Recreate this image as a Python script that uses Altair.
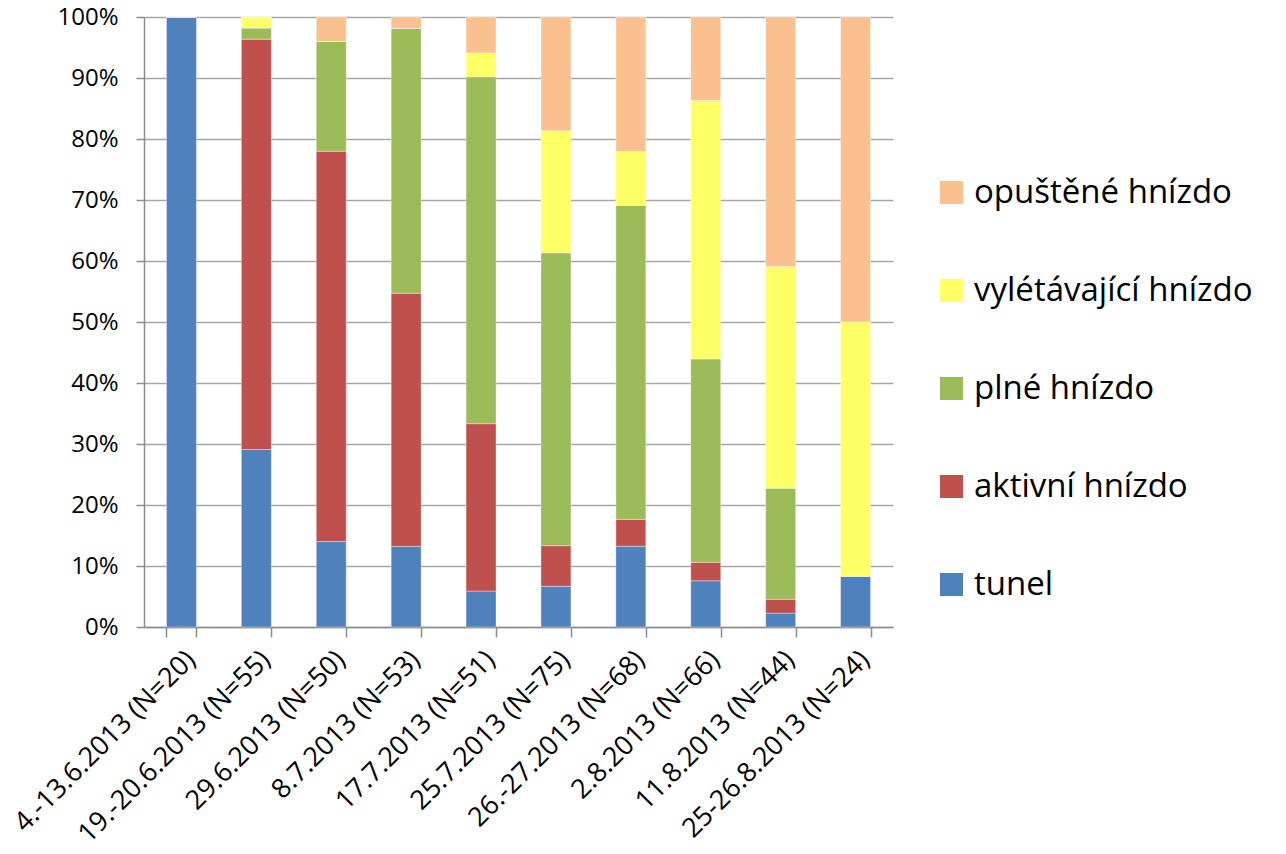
import altair as alt
import pandas as pd

# Sampling dates with the number of nests checked on each occasion
dates = [
    "4.-13.6.2013 (N=20)",
    "19.-20.6.2013 (N=55)",
    "29.6.2013 (N=50)",
    "8.7.2013 (N=53)",
    "17.7.2013 (N=51)",
    "25.7.2013 (N=75)",
    "26.-27.2013 (N=68)",
    "2.8.2013 (N=66)",
    "11.8.2013 (N=44)",
    "25-26.8.2013 (N=24)",
]

# Nest counts per stage on each date
tunel = [20, 16, 7, 7, 3, 5, 9, 5, 1, 2]
aktivni = [0, 37, 32, 22, 14, 5, 3, 2, 1, 0]
plne = [0, 1, 9, 23, 29, 36, 35, 22, 8, 0]
vyletavajici = [0, 1, 0, 0, 2, 15, 6, 28, 16, 10]
opustene = [0, 0, 2, 1, 3, 14, 15, 9, 18, 12]

stages = ["tunel", "aktivní hnízdo", "plné hnízdo", "vylétávající hnízdo", "opuštěné hnízdo"]
colors = ["#4F81BD", "#C0504D", "#9BBB59", "#FFFF66", "#FAC090"]
series = [tunel, aktivni, plne, vyletavajici, opustene]

rows = []
for stage_idx, (stage, values) in enumerate(zip(stages, series)):
    for date, v in zip(dates, values):
        rows.append({"datum": date, "stadium": stage, "pocet": v, "poradi": stage_idx})
df = pd.DataFrame(rows)

FONT = "Open Sans"

chart = (
    alt.Chart(df)
    .mark_bar(stroke="#ffffff", strokeOpacity=0.35, strokeWidth=1)
    .encode(
        x=alt.X(
            "datum:N",
            sort=dates,
            title=None,
            scale=alt.Scale(paddingInner=0.6, paddingOuter=0.3),
            axis=alt.Axis(
                labelAngle=-45,
                labelFontSize=27,
                labelFont=FONT,
                labelColor="#000000",
                labelPadding=9,
                tickBand="extent",
                tickSize=10,
                tickColor="#8c8c8c",
                tickWidth=1.5,
                domainColor="#8c8c8c",
                domainWidth=1.5,
                grid=False,
                labelLimit=400,
            ),
        ),
        y=alt.Y(
            "pocet:Q",
            stack="normalize",
            title=None,
            scale=alt.Scale(domain=[0, 1]),
            axis=alt.Axis(
                format="%",
                values=[i / 10 for i in range(11)],
                labelFontSize=24,
                labelFont=FONT,
                labelColor="#000000",
                labelPadding=18,
                tickSize=8,
                tickColor="#8c8c8c",
                tickWidth=1.5,
                domainColor="#8c8c8c",
                domainWidth=1.5,
                grid=True,
                gridColor="#a6a6a6",
                gridWidth=1.5,
            ),
        ),
        color=alt.Color(
            "stadium:N",
            scale=alt.Scale(domain=stages[::-1], range=colors[::-1]),
            legend=alt.Legend(
                title=None,
                orient="none",
                legendX=791,
                legendY=159,
                symbolType="square",
                symbolSize=529,
                symbolStrokeWidth=0,
                symbolOpacity=1,
                labelFontSize=33,
                labelFont=FONT,
                labelColor="#000000",
                labelOffset=6,
                rowPadding=64,
                labelLimit=400,
            ),
        ),
        order=alt.Order("poradi:Q", sort="ascending"),
    )
    .properties(
        width=749,
        height=610,
        autosize=alt.AutoSizeParams(type="none"),
        padding={"left": 144, "top": 17, "right": 393, "bottom": 227},
        background="#ffffff",
    )
    .configure_view(stroke=None)
)

chart.save("out.html", embed_options={"renderer": "svg", "actions": False})
